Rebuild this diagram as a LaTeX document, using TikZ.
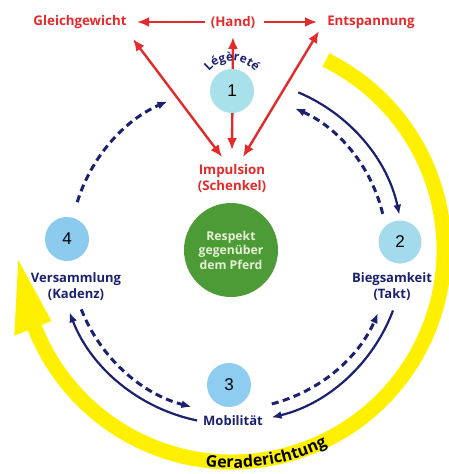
\documentclass[tikz,border=0pt]{standalone}
\usepackage{fontspec}
\setmainfont{Open Sans}
\newfontfamily\numfont{Liberation Sans}
\usetikzlibrary{arrows.meta,calc,decorations.text}
\definecolor{rd}{HTML}{E42A2A}
\definecolor{nv}{HTML}{1B216E}
\definecolor{yl}{HTML}{FFF000}
\definecolor{gr}{HTML}{4C9B36}
\definecolor{grtxt}{HTML}{E6F0D6}
\definecolor{cA}{HTML}{A8E1EA}
\definecolor{cB}{HTML}{A3DAEC}
\definecolor{cC}{HTML}{8ECDEF}
\definecolor{cD}{HTML}{8DCBEE}
\begin{document}
\begin{tikzpicture}[x=1pt,y=-1pt,
  redlabel/.style={text=rd,font=\fontsize{13.3}{16}\selectfont\bfseries,align=center,inner sep=0pt},
  navylabel/.style={text=nv,font=\fontsize{13}{16}\selectfont\bfseries,align=center,inner sep=0pt},
  numcircle/.style={circle,minimum size=44pt,inner sep=0pt,font=\numfont\fontsize{17}{17}\selectfont},
  redarrow/.style={rd,line width=2.4pt,-{Latex[length=12pt,width=10pt]}},
  redboth/.style={rd,line width=2.4pt,{Latex[length=12pt,width=10pt]}-{Latex[length=12pt,width=10pt]}},
  navysolid/.style={nv,line width=2.2pt,-{Latex[length=10pt,width=8pt]}},
  navydash/.style={nv,line width=3pt,dash pattern=on 7pt off 4.5pt,-{Latex[length=10pt,width=8pt]}},
]
\useasboundingbox (0,0) rectangle (448,474);
\fill[white] (0,0) rectangle (448,474);
\coordinate (ctr) at (232,250);

% yellow arrow
\draw[yl,line width=15pt] (ctr) ++(-63.7:212) arc[start angle=-63.7,end angle=159,radius=212];
\fill[yl] ($(ctr)+(177.3:214)$) -- ($(ctr)+(158.5:194)$) -- ($(ctr)+(158.5:234)$) -- cycle;
\path[decorate,decoration={text along path,text align=center,
  text={|\fontsize{16}{16}\selectfont\bfseries|Geraderichtung}}]
  (ctr) ++(115:218) arc[start angle=115,end angle=46,radius=218];

% labels
\node[redlabel] (gleich) at (80,22) {Gleichgewicht};
\node[redlabel] (hand) at (233,22) {(Hand)};
\node[redlabel] (entsp) at (371,22) {Entspannung};
\node[redlabel] (impuls) at (232,178) {Impulsion\\(Schenkel)};

% red arrows
\draw[redarrow] ($(hand)+(-28,0)$) -- ($(gleich)+(57,0)$);
\draw[redarrow] ($(hand)+(31,0)$) -- ($(entsp)+(-54,0)$);
\draw[redboth] ($(hand)+(0,15)$) -- ($(impuls)+(0,-28)$);
\draw[redboth] ($(gleich)+(53,17)$) -- ($(impuls)+(-10,-21)$);
\draw[redboth] ($(entsp)+(-52,9)$) -- ($(impuls)+(11,-21)$);

% circles
\node[numcircle,fill=cA] (n1) at (232,91) {1};
\node[numcircle,fill=cB,minimum size=43pt] (n2) at (400,242) {2};
\node[numcircle,fill=cC] (n3) at (229,385) {3};
\node[numcircle,fill=cD] (n4) at (67,239) {4};
\node[circle,fill=gr,minimum size=94pt,inner sep=0pt,text=grtxt,align=center,
  font=\fontsize{12.2}{14.5}\selectfont\bfseries] (resp) at (231,250) {Respekt\\gegenüber\\dem Pferd};

\path[decorate,decoration={text along path,text align=center,
  text={|\fontsize{12}{12}\selectfont\bfseries\color{nv}|Légèreté}}]
  (n1.center) ++(190:30) arc[start angle=190,end angle=350,radius=30];

\node[navylabel] (vers) at (76,287) {Versammlung\\(Kadenz)};
\node[navylabel] (biegs) at (392,287) {Biegsamkeit\\(Takt)};
\node[navylabel] (mobil) at (233,421) {Mobilität};

% blue arcs
\draw[navysolid] (ctr) ++(-67.2:171) arc[start angle=-67.2,end angle=-11.9,radius=171];
\draw[navydash] (ctr) ++(-13.5:155) arc[start angle=-13.5,end angle=-66,radius=155];
\draw[navysolid] (ctr) ++(20.6:172) arc[start angle=20.6,end angle=76.7,radius=172];
\draw[navydash] (ctr) ++(75.5:159) arc[start angle=75.5,end angle=23.4,radius=159];
\draw[navysolid] (ctr) ++(101.6:174) arc[start angle=101.6,end angle=159,radius=174];
\draw[navydash] (ctr) ++(158.5:162) arc[start angle=158.5,end angle=104.5,radius=162];
\draw[navydash] (ctr) ++(197.2:162) arc[start angle=197.2,end angle=246.5,radius=162];
\end{tikzpicture}
\end{document}
